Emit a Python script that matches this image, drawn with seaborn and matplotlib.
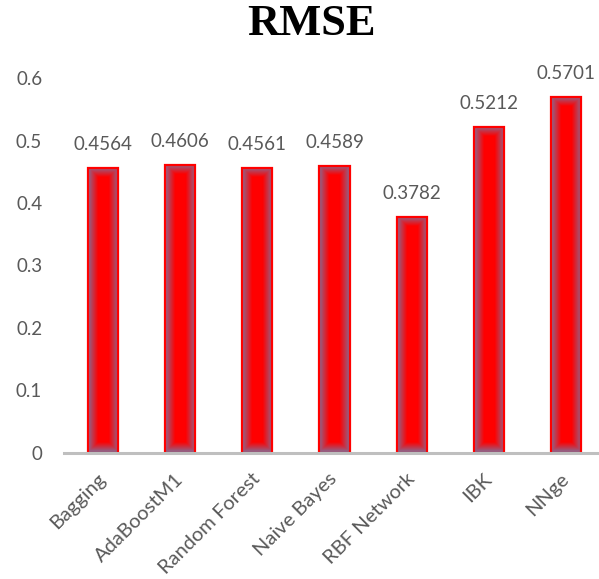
import numpy as np
import pandas as pd
import matplotlib
matplotlib.use("Agg")
import matplotlib.pyplot as plt
from matplotlib.colors import to_rgb
import seaborn as sns

# RMSE per classifier
classifiers = ["Bagging", "AdaBoostM1", "Random Forest", "Naive Bayes",
               "RBF Network", "IBK", "NNge"]
rmse = [0.4564, 0.4606, 0.4561, 0.4589, 0.3782, 0.5212, 0.5701]
y_ticks = [0, 0.1, 0.2, 0.3, 0.4, 0.5, 0.6]
y_tick_labels = ["0", "0.1", "0.2", "0.3", "0.4", "0.5", "0.6"]

sns.set_theme(style="white")
plt.rcParams["font.family"] = ["Lato", "DejaVu Sans"]

TEXT_GRAY = "#595959"
BAR_RED = "#ff0000"
EDGE_TINT = "#82709a"

df = pd.DataFrame({"classifier": classifiers, "rmse": rmse})

fig = plt.figure(figsize=(5.99, 5.79), dpi=100)
W, H = 599, 579
ax_left, ax_right = 64.4, 604.6
ax_bottom, ax_top = 452.5, 452.5 - 0.6 * 623.6
ax = fig.add_axes([ax_left / W, (H - ax_bottom) / H,
                   (ax_right - ax_left) / W, (ax_bottom - ax_top) / H])

sns.barplot(data=df, x="classifier", y="rmse", color=BAR_RED,
            width=0.39, ax=ax, saturation=1)
ax.set_ylim(0, 0.6)
ax.set_xlim(-0.5, len(classifiers) - 0.5)

# shaded fill: red core fading to a muted edge tint near the bar borders
fig.canvas.draw()
red = np.array(to_rgb(BAR_RED))
tint = np.array(to_rgb(EDGE_TINT))
for patch in ax.patches:
    x0, y0 = patch.get_x(), patch.get_y()
    w, h = patch.get_width(), patch.get_height()
    p0 = ax.transData.transform((x0, y0))
    p1 = ax.transData.transform((x0 + w, y0 + h))
    wp, hp = abs(p1[0] - p0[0]), abs(p1[1] - p0[1])
    nx, ny = max(int(wp * 2), 2), max(int(hp * 2), 2)
    xs = (np.arange(nx) + 0.5) / nx * wp
    ys = (np.arange(ny) + 0.5) / ny * hp
    dx = np.minimum(xs, wp - xs)[None, :]
    dy = np.minimum(ys, hp - ys)[:, None]
    d = np.minimum(dx, dy)
    t = np.clip(d / 10.0, 0, 1) ** 0.9
    img = tint[None, None, :] * (1 - t[..., None]) + red[None, None, :] * t[..., None]
    ax.imshow(img, extent=[x0, x0 + w, y0, y0 + h], origin="lower",
              aspect="auto", interpolation="bilinear",
              zorder=patch.get_zorder() - 0.05)
    patch.set_facecolor("none")
    patch.set_edgecolor(BAR_RED)
    patch.set_linewidth(1.6)
ax.set_ylim(0, 0.6)
ax.set_xlim(-0.5, len(classifiers) - 0.5)

# value labels above the bars
for i, v in enumerate(rmse):
    ax.annotate(f"{v:.4f}", xy=(i, v), xytext=(0, 17), textcoords="offset points",
                ha="center", va="center", fontsize=13.5, color=TEXT_GRAY,
                annotation_clip=False)

ax.set_yticks(y_ticks)
ax.set_yticklabels(y_tick_labels)
ax.tick_params(axis="y", length=0, pad=16, labelsize=13.5, labelcolor=TEXT_GRAY)
ax.tick_params(axis="x", length=0, pad=17, labelsize=14.5, labelcolor=TEXT_GRAY)
for lab in ax.get_xticklabels():
    lab.set_rotation(45)
    lab.set_ha("right")
    lab.set_va("center")
    lab.set_rotation_mode("anchor")

ax.set_xlabel("")
ax.set_ylabel("")
for side in ["top", "right", "left"]:
    ax.spines[side].set_visible(False)
ax.spines["bottom"].set_color("#bfbfbf")
ax.spines["bottom"].set_linewidth(2.2)
ax.grid(False)

fig.text(311 / W, 1 - 24 / H, "RMSE", ha="center", va="center",
         fontsize=32, fontweight="bold", family=["Liberation Serif", "DejaVu Serif"],
         color="black")

fig.savefig("out.png", dpi=100)
